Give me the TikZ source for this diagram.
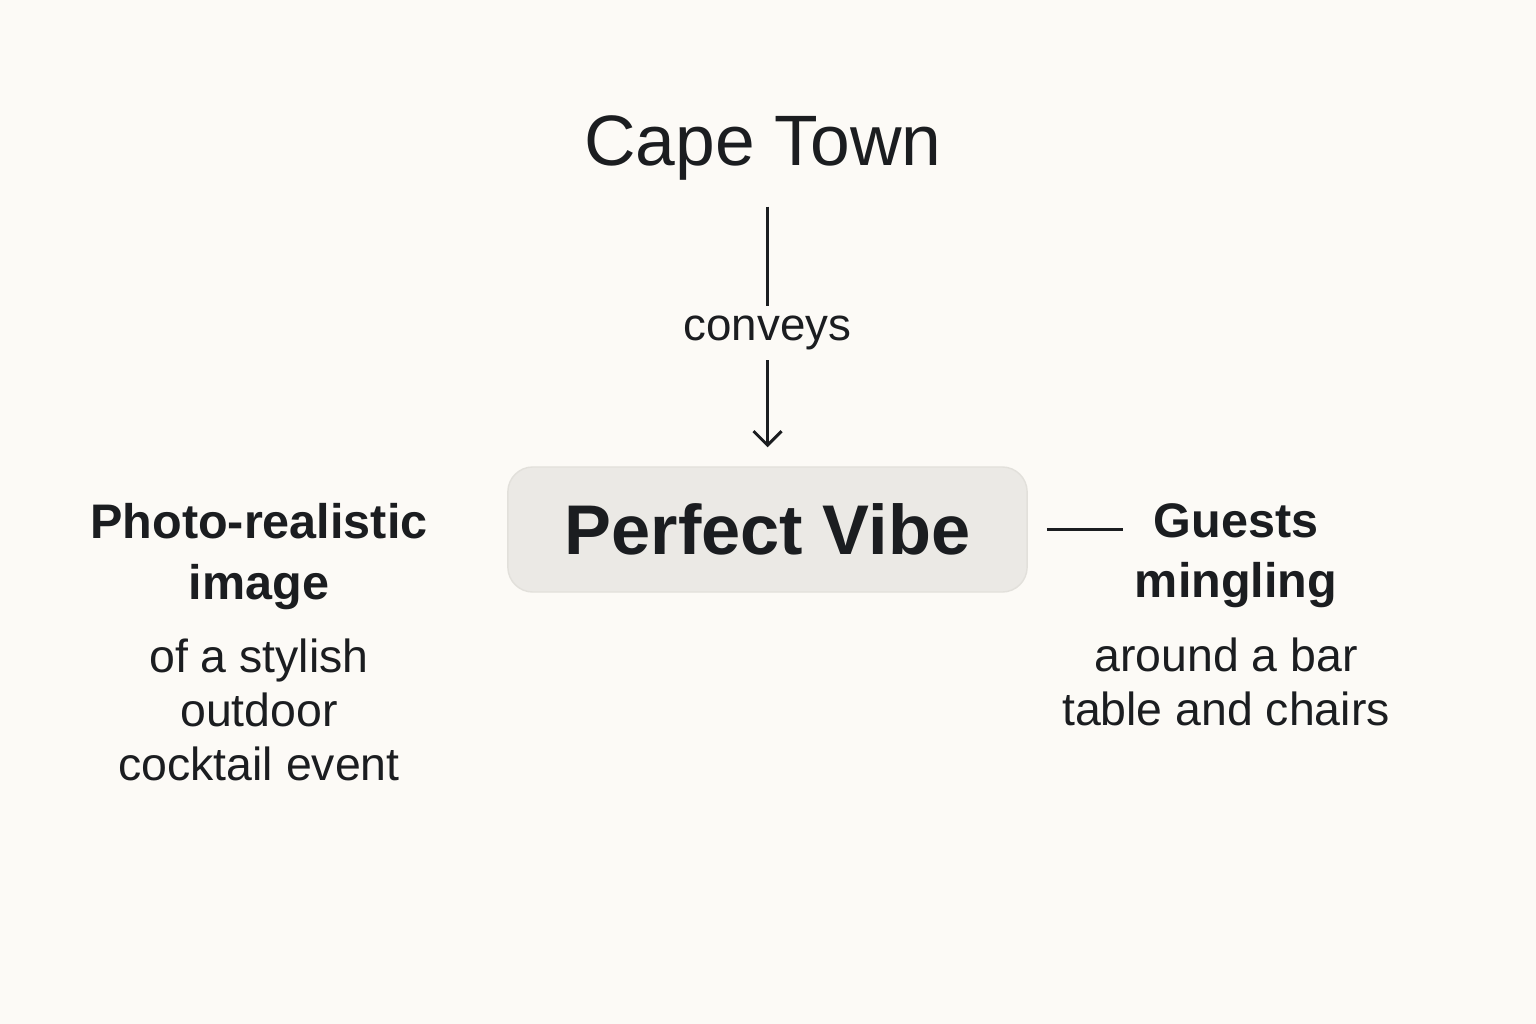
\documentclass[tikz,border=0pt]{standalone}
\usepackage{fontspec}
\setmainfont{Liberation Sans}
\usepackage{xcolor}
\usepackage{tikz}
\usetikzlibrary{positioning,arrows.meta}
\definecolor{paper}{HTML}{FCFAF6}
\definecolor{ink}{HTML}{1B1D20}
\definecolor{pill}{HTML}{EBE9E5}
\definecolor{pillline}{HTML}{E2E0DB}

\begin{document}
\begin{tikzpicture}[x=0.01cm, y=-0.01cm, node distance=0.3cm, text=ink,
    headtext/.style={inner sep=0pt, align=center, font=\fontsize{13.8}{17.1}\selectfont\bfseries},
    subtext/.style={inner sep=0pt, align=center, font=\fontsize{13.2}{15.4}\selectfont},
    link/.style={draw=ink, line width=0.85pt}]
    \fill[paper] (0,0) rectangle (1536,1024);

    \node (cape) [anchor=base, inner sep=0pt, font=\fontsize{20.3}{24}\selectfont] at (763,165) {Cape Town};
    \node (vibe) [rectangle, rounded corners=0.25cm, fill=pill, draw=pillline, minimum width=5.19cm, minimum height=1.25cm, font=\fontsize{20}{24}\selectfont\bfseries] at (767.5,529.5) {Perfect Vibe};

    \node (photo) [headtext, anchor=north] at (259,503) {Photo-realistic\\image};
    \node (photosub) [subtext, below=0.28cm of photo] {of a stylish\\outdoor\\cocktail event};

    \node (guests) [headtext, anchor=north] at (1236,503) {Guests\\mingling};
    \node (guestsub) [subtext, below=0.28cm of guests, xshift=-0.1cm] {around a bar\\table and chairs};

    \draw[link, -{Straight Barb[length=0.14cm, width=0.28cm]}, shorten <=0.26cm, shorten >=0.19cm]
        (cape.south -| vibe.north) -- node[pos=0.535, fill=paper, inner xsep=2pt, inner ysep=0.1cm, font=\fontsize{13}{15}\selectfont] {conveys} (vibe.north);
    \draw[link, shorten <=0.19cm, shorten >=0.11cm] (vibe.east) -- (vibe.east -| guests.west);
\end{tikzpicture}
\end{document}
